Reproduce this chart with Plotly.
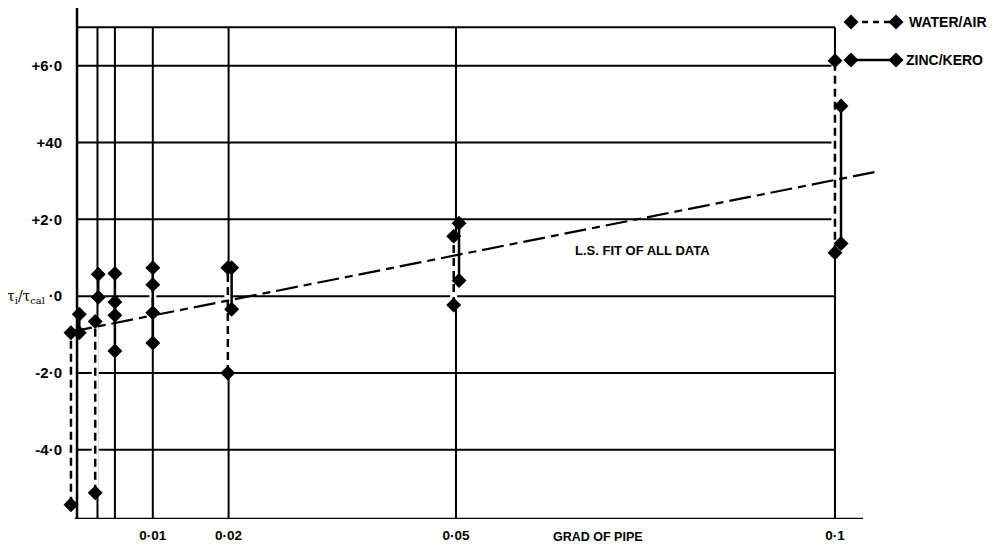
import plotly.graph_objects as go

# ---------------- data ----------------
# gradient positions of the vertical grid lines / data groups
grad_grid = [0.0, 0.0027, 0.005, 0.01, 0.02, 0.05, 0.1]
x_tick_vals = [0.01, 0.02, 0.05, 0.1]
x_tick_text = ["0·01", "0·02", "0·05", "0·1"]

y_grid = [7.0, 6.0, 4.0, 2.0, 0.0, -2.0, -4.0]
y_tick_vals = [6.0, 4.0, 2.0, 0.0, -2.0, -4.0]
y_tick_text = ["+6·0", "+40", "+2·0", "·0", "-2·0", "-4·0"]

# WATER/AIR groups (dashed)
water_x = [-0.0008, 0.0024, 0.0050, 0.0100, 0.0199, 0.0497, 0.1000]
water_y = [
    [-5.43, -0.95],
    [-5.12, -0.66],
    [-0.15, -0.50],
    [0.30, -0.43],
    [-2.00, 0.74],
    [-0.23, 1.56],
    [1.13, 6.13],
]

# ZINC/KERO groups (solid)
zinc_x = [0.0003, 0.0028, 0.0050, 0.0100, 0.0204, 0.0504, 0.1008]
zinc_y = [
    [-0.95, -0.47],
    [-0.03, 0.57],
    [0.59, -1.43],
    [0.74, -1.22],
    [0.74, -0.34],
    [1.90, 0.41],
    [4.95, 1.37],
]

# least-squares fit line, end points
fit_x = [-0.0009, 0.1055]
fit_y = [-0.93, 3.24]

legend_labels = ["WATER/AIR", "ZINC/KERO"]

# ---------------- helpers ----------------
def flatten(xs, ys):
    fx, fy = [], []
    for x, grp in zip(xs, ys):
        for v in grp:
            fx.append(x)
            fy.append(v)
        fx.append(None)
        fy.append(None)
    return fx, fy

X_RANGE = [-0.00119, 0.10858]
Y_RANGE = [-5.8, 7.5]
AXIS_END = 0.1037
FONT = "Liberation Sans, Arial, sans-serif"
INK = "#000000"
MSIZE = 11.5

wx, wy = flatten(water_x, water_y)
zx, zy = flatten(zinc_x, zinc_y)

fig = go.Figure()

# white underlay so the dashed line interrupts grid lines
fig.add_trace(go.Scatter(x=wx, y=wy, mode="lines", line=dict(color="white", width=7),
                         hoverinfo="skip", showlegend=False))
fig.add_trace(go.Scatter(x=zx, y=zy, mode="lines+markers", name=legend_labels[1],
                         line=dict(color=INK, width=2.5),
                         marker=dict(symbol="diamond", size=MSIZE, color=INK),
                         cliponaxis=False, showlegend=False))
fig.add_trace(go.Scatter(x=wx, y=wy, mode="lines+markers", name=legend_labels[0],
                         line=dict(color=INK, width=2.5, dash="8px,5px"),
                         marker=dict(symbol="diamond", size=MSIZE, color=INK),
                         cliponaxis=False, showlegend=False))
fig.add_trace(go.Scatter(x=fit_x, y=fit_y, mode="lines", name="L.S. FIT OF ALL DATA",
                         line=dict(color=INK, width=2.2, dash="22px,6px,8px,6px"),
                         showlegend=False))

# ---------------- custom legend on an overlay axis ----------------
for i, (lab, dash) in enumerate(zip(legend_labels, ["6px,5px", "solid"])):
    row = 1 - i
    fig.add_trace(go.Scatter(x=[0, 1], y=[row, row], xaxis="x2", yaxis="y2",
                             mode="lines+markers",
                             line=dict(color=INK, width=2.5, dash=dash),
                             marker=dict(symbol="diamond", size=MSIZE, color=INK),
                             cliponaxis=False, showlegend=False, hoverinfo="skip"))

# ---------------- grid as shapes ----------------
shapes = []
for g in grad_grid[1:]:
    shapes.append(dict(type="line", xref="x", yref="y", x0=g, x1=g, y0=Y_RANGE[0], y1=max(y_grid),
                       line=dict(color=INK, width=2), layer="below"))
for h in y_grid:
    shapes.append(dict(type="line", xref="x", yref="y", x0=grad_grid[0], x1=max(grad_grid), y0=h, y1=h,
                       line=dict(color=INK, width=2), layer="below"))
# left axis
shapes.append(dict(type="line", xref="x", yref="y", x0=grad_grid[0], x1=grad_grid[0],
                   y0=Y_RANGE[0], y1=Y_RANGE[1], line=dict(color=INK, width=2.5), layer="below"))
# bottom axis
shapes.append(dict(type="line", xref="x", yref="y", x0=grad_grid[0] - 0.0003, x1=AXIS_END,
                   y0=Y_RANGE[0], y1=Y_RANGE[0], line=dict(color=INK, width=2.5), layer="below"))

# the page body has an 8px margin; size the figure so the screen positions match
OFF = 8
W, H = 995 - OFF, 551 - OFF
# plot area on screen: left 68, right 900, top 8, bottom 519
L, R, T, B = 68 - OFF, W - (900 - OFF), 8 - OFF, H - (519 - OFF)
pw, ph = W - L - R, H - T - B

def sx(px):
    return (px - OFF - L) / pw

def sy(py):
    return (H - B - (py - OFF)) / ph

annotations = [
    dict(text="L.S. FIT OF ALL DATA", xref="paper", yref="paper",
         x=sx(642), y=sy(250), xanchor="center", yanchor="middle", showarrow=False,
         font=dict(family=FONT, size=13, color=INK, weight="bold")),
    dict(text="GRAD OF PIPE", xref="paper", yref="paper",
         x=sx(598), y=sy(537), xanchor="center", yanchor="middle", showarrow=False,
         font=dict(family=FONT, size=12.5, color=INK, weight="bold")),
    dict(text="τ<sub>i</sub>/τ<sub>cal</sub>", xref="paper", yref="paper",
         x=sx(47), y=sy(297), xanchor="right", yanchor="middle", showarrow=False,
         font=dict(family="DejaVu Serif, serif", size=14, color=INK)),
]
for i, lab in enumerate(legend_labels):
    annotations.append(dict(text=lab, xref="paper", yref="paper",
                            x=sx(907 - 3 * i), y=sy(22 + 38 * i),
                            xanchor="left", yanchor="middle", showarrow=False,
                            font=dict(family=FONT, size=14, color=INK, weight="bold")))

# legend overlay axis domain: diamonds at screen x 851..896, rows at y 22 (top) and 60
lx0, lx1 = sx(851), sx(896)
ly_top, ly_bot = sy(22), sy(60)
pad = 0.25 * (ly_top - ly_bot)

fig.update_layout(
    width=W, height=H,
    margin=dict(l=L, r=R, t=T, b=B),
    paper_bgcolor="white", plot_bgcolor="white",
    showlegend=False,
    font=dict(family=FONT, color=INK),
    xaxis=dict(range=X_RANGE, showgrid=False, zeroline=False, showline=False,
               tickmode="array", tickvals=x_tick_vals, ticktext=x_tick_text,
               ticks="", ticklabelstandoff=6, automargin=False,
               tickfont=dict(family=FONT, size=13.5, color=INK, weight="bold")),
    yaxis=dict(range=Y_RANGE, showgrid=False, zeroline=False, showline=False,
               tickmode="array", tickvals=y_tick_vals, ticktext=y_tick_text,
               ticks="", ticklabelstandoff=5, automargin=False,
               tickfont=dict(family=FONT, size=15, color=INK, weight="bold")),
    xaxis2=dict(domain=[lx0, lx1], range=[0, 1], visible=False, showticklabels=False, anchor="y2"),
    yaxis2=dict(domain=[ly_bot - pad, ly_top + pad], range=[-0.25, 1.25], visible=False,
                showticklabels=False, anchor="x2"),
    shapes=shapes,
    annotations=annotations,
)

fig.write_html("out.html")
